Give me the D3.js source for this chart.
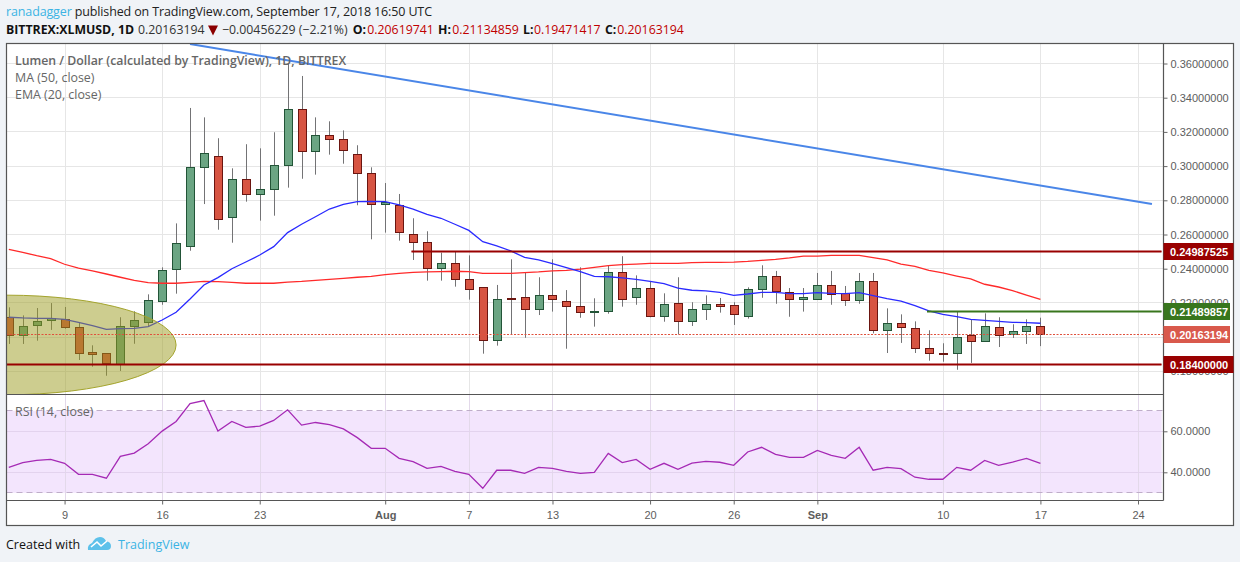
<!DOCTYPE html>
<html><head><meta charset="utf-8">
<script src="https://cdn.jsdelivr.net/npm/d3@7"></script>
<style>
html,body{margin:0;padding:0;background:#f0f3f7;}
svg{display:block;}
text{font-family:"Liberation Sans",Arial,sans-serif;}
.hd text,.hd{font-family:"Open Sans",sans-serif;}
</style></head><body>
<svg id="c" width="1240" height="562"></svg>
<script>
const startDate = "2018-07-05";
const open  = [.2116,.2011,.2067,.2092,.2104,.2057,.1911,.1905,.1839,.2063,.2084,.2209,.2396,.2529,.2991,.3057,.2701,.2923,.2833,.2862,.3005,.3332,.3087,.3180,.3157,.3069,.2958,.2777,.2767,.2601,.2554,.2402,.2432,.2338,.2291,.1981,.2223,.2233,.2163,.2244,.2209,.2180,.2145,.2151,.2379,.2233,.2285,.2122,.2198,.2092,.2163,.2192,.2186,.2122,.2280,.2356,.2262,.2221,.2221,.2303,.2256,.2215,.2326,.2040,.2081,.2051,.1934,.1905,.1905,.2011,.1975,.2057,.2016,.2034,.20619741];
const high  = [.2174,.2127,.2170,.2199,.2176,.2084,.1952,.1905,.2116,.2151,.2250,.2408,.2665,.3340,.3285,.3163,.2987,.3128,.3104,.3198,.3601,.3527,.3285,.3262,.3209,.3122,.2993,.2901,.2837,.2695,.2619,.2494,.2502,.2478,.2291,.2305,.2455,.2379,.2350,.2455,.2275,.2408,.2227,.2420,.2473,.2361,.2326,.2256,.2350,.2204,.2244,.2229,.2204,.2291,.2420,.2387,.2287,.2287,.2375,.2387,.2299,.2375,.2375,.2168,.2133,.2092,.2040,.1964,.2149,.2100,.2139,.2116,.2075,.2104,.21134859];
const low   = [.1960,.1960,.1979,.2042,.2049,.1866,.1827,.1774,.1802,.1961,.2063,.2189,.2254,.2505,.2778,.2628,.2552,.2792,.2681,.2710,.2874,.2926,.2950,.3067,.3014,.2771,.2572,.2611,.2564,.2451,.2330,.2330,.2295,.2219,.1903,.1950,.2018,.1996,.2129,.2149,.1932,.2113,.2061,.2137,.2178,.2189,.2116,.2090,.2016,.2065,.2100,.2143,.2071,.2108,.2230,.2195,.2119,.2149,.2221,.2189,.2182,.2195,.2022,.1907,.1966,.1907,.1862,.1856,.1809,.1849,.1975,.1942,.1995,.1960,.19471417];
const close = [.2011,.2063,.2092,.2106,.2057,.1905,.1897,.1844,.2063,.2098,.2215,.2391,.2549,.2993,.3075,.2689,.2923,.2833,.2864,.3005,.3332,.3087,.3180,.3157,.3092,.2958,.2777,.2786,.2607,.2554,.2402,.2432,.2338,.2280,.1981,.2221,.2217,.2163,.2244,.2221,.2180,.2145,.2151,.2379,.2221,.2285,.2119,.2192,.2092,.2163,.2192,.2178,.2133,.2280,.2356,.2268,.2221,.2233,.2303,.2248,.2215,.2326,.2040,.2081,.2057,.1934,.1905,.1897,.1999,.1975,.2063,.2011,.2034,.2062,.20163194];
const ma50  = [.2513,.2496,.2476,.2459,.2426,.2404,.2387,.2369,.2350,.2332,.2318,.2315,.2315,.2320,.2326,.2324,.2320,.2315,.2315,.2315,.2322,.2326,.2332,.2338,.2344,.2350,.2355,.2365,.2373,.2379,.2381,.2383,.2385,.2383,.2373,.2373,.2373,.2377,.2381,.2387,.2390,.2398,.2408,.2418,.2424,.2427,.2431,.2431,.2431,.2435,.2437,.2437,.2439,.2443,.2449,.2455,.2463,.2474,.2474,.2478,.2478,.2478,.2465,.2451,.2427,.2414,.2390,.2375,.2357,.2340,.2309,.2293,.2272,.2246,.2221];
const ema20 = [.2116,.2112,.2110,.2110,.2104,.2086,.2067,.2045,.2049,.2051,.2061,.2100,.2145,.2223,.2305,.2348,.2400,.2439,.2480,.2529,.2611,.2660,.2704,.2749,.2776,.2792,.2794,.2792,.2773,.2749,.2718,.2695,.2660,.2624,.2558,.2533,.2504,.2466,.2451,.2430,.2406,.2383,.2355,.2353,.2346,.2338,.2326,.2313,.2287,.2274,.2270,.2262,.2244,.2252,.2262,.2262,.2254,.2254,.2260,.2256,.2254,.2260,.2242,.2225,.2211,.2184,.2153,.2133,.2120,.2104,.2098,.2092,.2086,.2085,.2081];
const rsi   = [42.4,44.7,45.8,46.3,44.4,39.0,39.0,37.1,47.8,49.4,53.9,60.1,64.8,73.5,75.0,60.1,64.8,61.9,62.5,65.3,70.5,63.0,64.3,63.3,61.2,56.9,51.7,51.7,46.8,45.2,41.9,42.9,40.5,39.0,32.2,41.0,41.0,39.5,42.4,41.9,40.5,39.5,40.0,49.2,44.7,46.3,41.5,44.4,41.5,44.5,45.3,44.9,43.4,49.9,52.2,48.8,47.3,47.3,50.7,48.3,46.8,52.2,41.0,42.4,41.8,37.6,36.6,36.6,42.4,41.0,45.8,43.4,45.0,46.8,44.4];
const priceTicks = [.18,.20,.22,.24,.26,.28,.30,.32,.34,.36];
const labelledPriceTicks = [.18,.22,.24,.26,.28,.30,.32,.34,.36];
const rsiTicks = [40,60];
const timeTicks = ["2018-07-09","2018-07-16","2018-07-23","2018-08-01","2018-08-07","2018-08-13","2018-08-20","2018-08-26","2018-09-01","2018-09-10","2018-09-17","2018-09-24"];
const timeLabels = ["9","16","23","Aug","7","13","20","26","Sep","10","17","24"];
const levelPrices = [0.24987525,0.18400000,0.21489857];
const lastClose = 0.20163194;
const trendDates = ["2018-07-18","2018-09-25"], trendPrices = [0.3714,0.2778];
const ellipseCenter = ["2018-07-05",0.1954];

const parse = d3.utcParse("%Y-%m-%d");
const dates = open.map((_,i)=>d3.utcDay.offset(parse(startDate),i));
const svg = d3.select("#c");
const L=6.5,R=1163.5,OR=1233.5,T=43.5,M=394.5,B=500.5,OB=525.5;
const x = d3.scaleUtc().domain([parse(startDate),parse("2018-09-24")]).range([8.8,1138]);
const y = d3.scaleLinear().domain([.18,.36]).range([371.3,63.5]);
const yr = d3.scaleLinear().domain([40,60]).range([472.3,431.3]);
const snap = v => Math.round(v-.5)+.5;

svg.append("rect").attr("x",L).attr("y",T).attr("width",OR-L).attr("height",OB-T).attr("fill","#fff");
const defs = svg.append("defs");
defs.append("clipPath").attr("id","main").append("rect").attr("x",L).attr("y",T).attr("width",R-L).attr("height",M-T);
defs.append("clipPath").attr("id","rp").append("rect").attr("x",L).attr("y",M).attr("width",R-L).attr("height",B-M);

// rsi band
svg.append("rect").attr("x",L).attr("y",yr(70)).attr("width",1161.7-L).attr("height",yr(30)-yr(70)).attr("fill","#f3e5fd");

// grid
const tickDates = timeTicks.map(parse);
svg.append("g").selectAll("line").data(tickDates).join("line")
  .attr("x1",d=>Math.round(x(d))+.5).attr("x2",d=>Math.round(x(d))+.5).attr("y1",T).attr("y2",M).attr("stroke","#e6e6e6").attr("stroke-width",1);
svg.append("g").selectAll("line").data(tickDates).join("line")
  .attr("x1",d=>Math.round(x(d))+.5).attr("x2",d=>Math.round(x(d))+.5).attr("y1",M).attr("y2",B).attr("stroke","#e3d9ea").attr("stroke-width",1);
svg.append("g").selectAll("line").data(priceTicks).join("line")
  .attr("x1",L).attr("x2",R).attr("y1",d=>snap(y(d))).attr("y2",d=>snap(y(d))).attr("stroke","#e6e6e6").attr("stroke-width",1);
svg.append("g").selectAll("line").data(rsiTicks).join("line")
  .attr("x1",L).attr("x2",R).attr("y1",d=>snap(yr(d))).attr("y2",d=>snap(yr(d))).attr("stroke","#e3d3ee").attr("stroke-width",1);
svg.append("g").selectAll("line").data([70,30]).join("line")
  .attr("x1",L).attr("x2",R).attr("y1",d=>snap(yr(d))).attr("y2",d=>snap(yr(d)))
  .attr("stroke","#bfaec9").attr("stroke-width",1).attr("stroke-dasharray","6 4");

const main = svg.append("g").attr("clip-path","url(#main)");

// candles
const idx = d3.range(open.length);
main.append("g").selectAll("line").data(idx).join("line")
  .attr("x1",i=>Math.round(x(dates[i]))+.5).attr("x2",i=>Math.round(x(dates[i]))+.5)
  .attr("y1",i=>y(high[i])).attr("y2",i=>y(low[i])).attr("stroke","#737375").attr("stroke-width",1);
main.append("g").selectAll("rect").data(idx).join("rect")
  .attr("x",i=>Math.round(x(dates[i]))-3.5).attr("width",8)
  .attr("y",i=>snap(y(Math.max(open[i],close[i]))))
  .attr("height",i=>Math.max(1,Math.round(Math.abs(y(open[i])-y(close[i])))))
  .attr("fill",i=>close[i]>=open[i]?"#6ba583":"#d75442")
  .attr("stroke",i=>close[i]>=open[i]?"#225437":"#6b1510").attr("stroke-width",1);

// MA, EMA
const lineP = arr => d3.line().x((_,i)=>x(dates[i])).y((_,i)=>y(arr[i]))(arr);
main.append("path").attr("d",lineP(ma50)).attr("fill","none").attr("stroke","#ff2a2a").attr("stroke-width",1.3);
main.append("path").attr("d",lineP(ema20)).attr("fill","none").attr("stroke","#2a2aff").attr("stroke-width",1.3);

// ellipse
const ex = x(parse(ellipseCenter[0])), ey = y(ellipseCenter[1]);
main.append("ellipse").attr("cx",ex-2).attr("cy",ey).attr("rx",x(parse("2018-07-17"))-x(parse("2018-07-05"))+2).attr("ry",49.8)
  .attr("fill","rgba(155,155,31,.5)").attr("stroke","#a3a32c").attr("stroke-width",1);

// levels
const lv = ["#990000","#990000","#38761d"];
levelPrices.forEach((p,k)=>{
  const a = k==2?927:(k==0?411.5:L), b=1161.5;
  const yy = snap(y(p));
  main.append("line").attr("x1",a).attr("x2",b).attr("y1",yy).attr("y2",yy).attr("stroke",lv[k]).attr("stroke-opacity",.5).attr("stroke-width",3);
  main.append("line").attr("x1",a).attr("x2",b).attr("y1",yy).attr("y2",yy).attr("stroke",lv[k]).attr("stroke-width",1);
});
// close line
main.append("line").attr("x1",L).attr("x2",R).attr("y1",snap(y(lastClose))).attr("y2",snap(y(lastClose)))
  .attr("stroke","#e0503c").attr("stroke-width",1).attr("stroke-dasharray","2 1.5");
// trend line
main.append("line").attr("x1",x(parse(trendDates[0]))).attr("y1",y(trendPrices[0]))
  .attr("x2",x(parse(trendDates[1]))).attr("y2",y(trendPrices[1])).attr("stroke","#4a86e8").attr("stroke-width",2);

// rsi line
svg.append("path").attr("clip-path","url(#rp)")
  .attr("d",d3.line().x((_,i)=>x(dates[i])).y(d=>yr(d))(rsi))
  .attr("fill","none").attr("stroke","#a52ab5").attr("stroke-width",1.3);

// frame
const fr = svg.append("g").attr("stroke","#555").attr("fill","none").attr("stroke-width",1.2);
fr.append("rect").attr("x",L).attr("y",T).attr("width",OR-L).attr("height",OB-T);
fr.append("line").attr("x1",R).attr("x2",R).attr("y1",T).attr("y2",B);
fr.append("line").attr("x1",L).attr("x2",R).attr("y1",M).attr("y2",M);
fr.append("line").attr("x1",L).attr("x2",R).attr("y1",B).attr("y2",B);

// axes
const styleAxis = g => { g.select(".domain").remove(); g.selectAll("line").attr("stroke","#666");
  g.selectAll("text").attr("fill","#5d5d5d").style("font-size","11px").style("font-family",'"Liberation Sans",Arial,sans-serif'); };
svg.append("g").attr("transform",`translate(${R},0)`)
  .call(d3.axisRight(y).tickValues(labelledPriceTicks).tickFormat(d3.format(".8f")).tickSize(4).tickPadding(3)).call(styleAxis);
svg.append("g").attr("transform",`translate(${R},0)`)
  .call(d3.axisRight(yr).tickValues(rsiTicks).tickFormat(d3.format(".4f")).tickSize(4).tickPadding(3)).call(styleAxis);
svg.append("g").attr("transform",`translate(0,${B})`)
  .call(d3.axisBottom(x).tickValues(tickDates).tickFormat((d,i)=>timeLabels[i]).tickSize(4).tickPadding(7)).call(styleAxis)
  .selectAll("text").style("font-weight",(d,i)=>/[A-Z]/.test(timeLabels[i])?"bold":"normal");

// price labels
const labels=[[levelPrices[0],"#990000",OR],[levelPrices[2],"#38761d",1230],[lastClose,"#d9594c",1230],[levelPrices[1],"#990000",OR]];
labels.forEach(([p,c,r])=>{
  const yy=Math.round(y(p)-.5);
  svg.append("rect").attr("x",R).attr("y",yy-8).attr("width",r-R).attr("height",17).attr("fill",c);
  svg.append("text").attr("x",1170).attr("y",yy+4.5).attr("fill","#fff").attr("font-size","11px").attr("font-weight","bold").text(d3.format(".8f")(p));
});

// legends
const lg = svg.append("g").attr("class","hd").attr("fill","#666");
lg.append("text").attr("x",15).attr("y",65).attr("font-size","12.3px").attr("font-weight","600").text("Lumen / Dollar (calculated by TradingView), 1D, BITTREX");
lg.append("text").attr("x",15).attr("y",82).attr("font-size","12.4px").text("MA (50, close)");
lg.append("text").attr("x",15).attr("y",99).attr("font-size","12.4px").text("EMA (20, close)");
lg.append("text").attr("x",15).attr("y",416).attr("font-size","12.4px").text("RSI (14, close)");

// header
const hd = svg.append("g").attr("class","hd");
const h1 = hd.append("text").attr("x",6).attr("y",16).attr("font-size","12.5px").attr("textLength",426).attr("lengthAdjust","spacing");
h1.append("tspan").attr("fill","#3bb3e4").text("ranadagger");
h1.append("tspan").attr("fill","#222").text(" published on TradingView.com, September 17, 2018 16:50 UTC");
const row=[["BITTREX:XLMUSD, 1D",6,"#111",1],["0.20163194",138,"#333",0],["\u22120.00456229 (\u22122.21%)",222,"#333",0],
 ["O:",352.7,"#111",1],["0.20619741",367.3,"#c00000",0],["H:",438,"#111",1],["0.21134859",452.3,"#c00000",0],
 ["L:",523,"#111",1],["0.19471417",534,"#c00000",0],["C:",605,"#111",1],["0.20163194",617.3,"#c00000",0]];
row.forEach(([t,xx,c,b])=>hd.append("text").attr("x",xx).attr("y",34).attr("font-size","12.3px").attr("fill",c).attr("font-weight",b?"bold":"normal").text(t));
svg.append("path").attr("d","M208 25.5h10l-5 10z").attr("fill","#8b0000");

// footer
const ft = svg.append("g").attr("class","hd");
ft.append("text").attr("x",6).attr("y",549).attr("font-size","12.5px").attr("fill","#111").text("Created with");
ft.append("path").attr("d","M88 550 q-1 -5 4 -7 q3 -6 8 -6 q4 0 6 4 q5 1 5 5 q0 4 -4 4 z").attr("fill","#5dc1ea");
ft.append("path").attr("d","M91 547 l6 -5 l4 4 l6 -5").attr("fill","none").attr("stroke","#fff").attr("stroke-width",1.6);
ft.append("text").attr("x",118).attr("y",549).attr("font-size","12.5px").attr("fill","#3bb3e4").text("TradingView");
</script>
</body></html>
